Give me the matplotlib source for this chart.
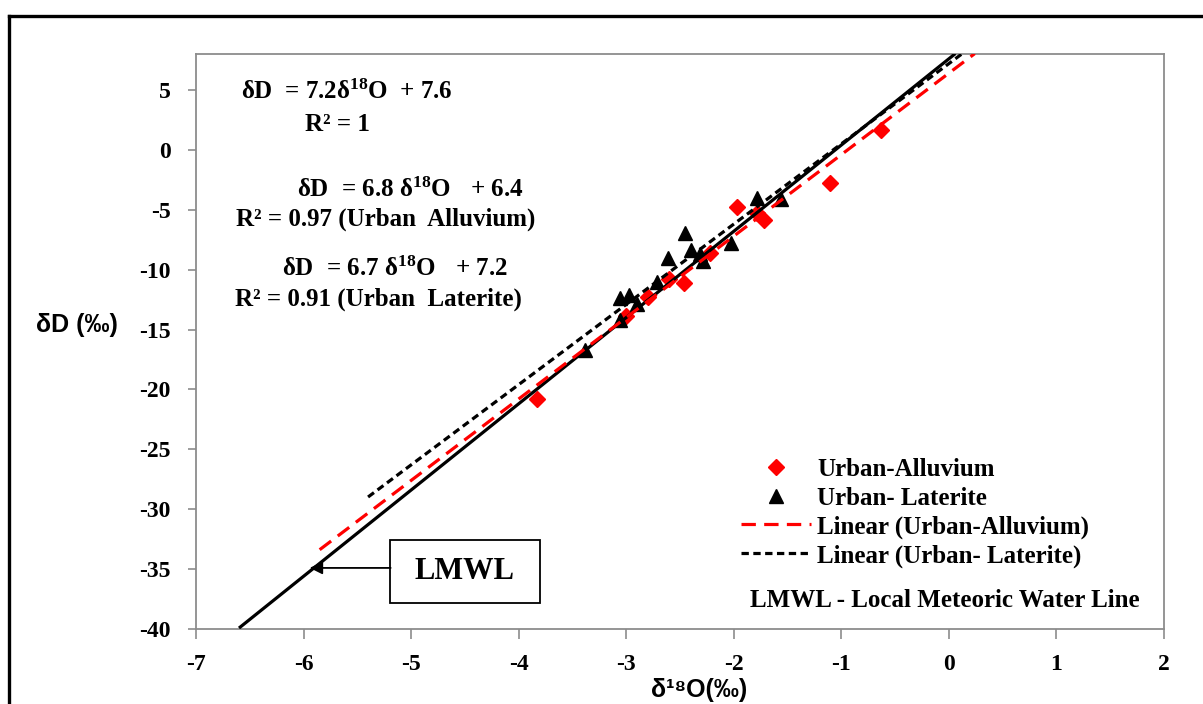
import matplotlib
matplotlib.use("Agg")
import matplotlib.pyplot as plt
from matplotlib.lines import Line2D
from matplotlib.patches import Rectangle

# ---- data -------------------------------------------------------------
alluvium_d18o = [-3.83, -3.00, -2.80, -2.60, -2.46, -2.22, -1.97, -1.78, -1.72, -1.11, -0.63]
alluvium_dD = [-20.8, -13.9, -12.3, -10.8, -11.1, -8.6, -4.75, -5.3, -5.85, -2.75, 1.65]

laterite_d18o = [-3.38, -3.06, -3.06, -2.97, -2.90, -2.71, -2.61, -2.45, -2.40,
                 -2.31, -2.29, -2.03, -1.78, -1.56]
laterite_dD = [-16.7, -14.2, -12.4, -12.1, -12.9, -11.0, -9.05, -6.95, -8.4,
               -8.7, -9.3, -7.8, -4.05, -4.1]

# regression lines: slope, intercept, x-extent
lmwl_slope, lmwl_icpt = 7.2, 7.6
lmwl_x = [-6.6, 0.06]
alluvium_slope, alluvium_icpt = 6.8, 6.4
alluvium_x = [-5.85, 0.24]
laterite_slope, laterite_icpt = 6.7, 7.2
laterite_x = [-5.4, 0.12]

x_ticks = [-7, -6, -5, -4, -3, -2, -1, 0, 1, 2]
y_ticks = [5, 0, -5, -10, -15, -20, -25, -30, -35, -40]

# ---- style ------------------------------------------------------------
plt.rcParams["mathtext.fontset"] = "custom"
plt.rcParams["mathtext.rm"] = "Liberation Serif:bold"
plt.rcParams["mathtext.it"] = "Liberation Serif:bold"
plt.rcParams["mathtext.bf"] = "Liberation Serif:bold"
plt.rcParams["mathtext.default"] = "rm"

SERIF = "Liberation Serif"
SANS = ["Liberation Sans", "DejaVu Sans"]
GRAY = "#8c8c8c"

fig = plt.figure(figsize=(12.03, 7.04), dpi=100)
ax = fig.add_axes([0.1629, 0.1065, 0.8047, 0.8168])

# outer frame (left and top edges)
fig.add_artist(Line2D([0.0078, 0.0078], [0.0, 0.977], transform=fig.transFigure,
                      color="black", lw=2.4))
fig.add_artist(Line2D([0.0078, 1.0], [0.977, 0.977], transform=fig.transFigure,
                      color="black", lw=2.4))

# ---- points -----------------------------------------------------------
ax.plot(alluvium_d18o, alluvium_dD, linestyle="none", marker="D", ms=8,
        color="#ff0000", mec="#ff0000", zorder=3, label="Urban-Alluvium")
ax.plot(laterite_d18o, laterite_dD, linestyle="none", marker="^", ms=10.5,
        color="black", zorder=3, label="Urban- Laterite")

# ---- lines ------------------------------------------------------------
def line_y(xs, slope, icpt):
    return [slope * v + icpt for v in xs]

ax.plot(lmwl_x, line_y(lmwl_x, lmwl_slope, lmwl_icpt), color="black", lw=2.3,
        solid_capstyle="butt", zorder=4)
ax.plot(alluvium_x, line_y(alluvium_x, alluvium_slope, alluvium_icpt),
        color="#ff0000", lw=2.3, dashes=(4.5, 2.6), zorder=5,
        label="Linear (Urban-Alluvium)")
ax.plot(laterite_x, line_y(laterite_x, laterite_slope, laterite_icpt),
        color="black", lw=2.3, dashes=(2.3, 1.4), zorder=6,
        label="Linear (Urban- Laterite)")

# ---- axes -------------------------------------------------------------
ax.set_xlim(-7, 2)
ax.set_ylim(-40, 8)
ax.set_xticks(x_ticks)
ax.set_yticks(y_ticks)
ax.set_xticklabels([str(t) for t in x_ticks])
ax.set_yticklabels([str(t) for t in y_ticks])
for s in ax.spines.values():
    s.set_color(GRAY)
    s.set_linewidth(1.3)
ax.tick_params(axis="y", direction="out", length=6, width=1.2, color=GRAY, pad=12)
ax.tick_params(axis="x", direction="out", length=7, width=1.2, color=GRAY, pad=11)
for lab in ax.get_xticklabels() + ax.get_yticklabels():
    lab.set_fontfamily(SERIF)
    lab.set_fontweight("bold")
    lab.set_fontsize(17)

ax.set_xlabel("δ¹⁸O(‰)", family=SANS, fontweight="bold", fontsize=18, labelpad=4)
ax.xaxis.set_label_coords(0.52, -0.085)
fig.text(0.064, 0.538, "δD (‰)", family=SANS, fontweight="bold", fontsize=18,
         ha="center", va="center")

# ---- equations --------------------------------------------------------
eq_kw = dict(transform=ax.transAxes, family=SERIF, fontweight="bold",
             fontsize=18, ha="center", va="center")
ax.text(0.156, 0.934, r"δD  = 7.2δ$^{18}$O  + 7.6", **eq_kw)
ax.text(0.146, 0.878, "R² = 1", **eq_kw)
ax.text(0.221, 0.764, r"δD$\ $ = 6.8 δ$^{18}$O$\ \ $ + 6.4", **eq_kw)
ax.text(0.196, 0.712, "R² = 0.97 (Urban  Alluvium)", **eq_kw)
ax.text(0.205, 0.626, r"δD$\ $ = 6.7 δ$^{18}$O$\ \ $ + 7.2", **eq_kw)
ax.text(0.189, 0.574, "R² = 0.91 (Urban  Laterite)", **eq_kw)

# ---- LMWL callout -----------------------------------------------------
ax.add_patch(Rectangle((0.200, 0.045), 0.155, 0.110, transform=ax.transAxes,
                       facecolor="white", edgecolor="black", lw=1.3, zorder=7))
ax.text(0.2775, 0.100, "LMWL", transform=ax.transAxes, family=SERIF,
        fontweight="bold", fontsize=22, ha="center", va="center", zorder=8)
arrow_y = -34.9
ax.annotate("", xy=((arrow_y - lmwl_icpt) / lmwl_slope - 0.04, arrow_y),
            xytext=(-5.19, arrow_y),
            arrowprops=dict(arrowstyle="-|>", color="black", lw=1.3,
                            mutation_scale=19, shrinkA=0, shrinkB=0),
            zorder=8)

# ---- legend -----------------------------------------------------------
leg = ax.legend(loc="upper left", bbox_to_anchor=(0.563, 0.297), frameon=False,
                prop=dict(family=SERIF, weight="bold", size=18),
                handlelength=2.8, handletextpad=0.25, labelspacing=0.22,
                borderpad=0, borderaxespad=0)
ax.text(0.774, 0.050, "LMWL - Local Meteoric Water Line", transform=ax.transAxes,
        family=SERIF, fontweight="bold", fontsize=18, ha="center", va="center")

fig.savefig("out.png", dpi=100)
